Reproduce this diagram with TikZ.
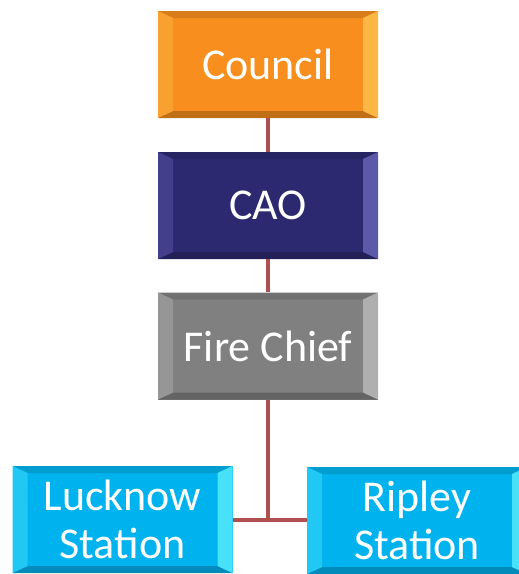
\documentclass[tikz,border=0pt]{standalone}
\usepackage{fontspec}
\setmainfont{Carlito}
\usetikzlibrary{calc}

\definecolor{councilorange}{RGB}{247,142,30}
\definecolor{councillight}{RGB}{255,205,90}
\definecolor{caonavy}{RGB}{44,41,112}
\definecolor{caolight}{RGB}{120,115,200}
\definecolor{chiefgray}{RGB}{128,128,128}
\definecolor{chieflight}{RGB}{200,200,200}
\definecolor{stationcyan}{RGB}{0,178,238}
\definecolor{stationlight}{RGB}{110,250,255}
\definecolor{linkred}{RGB}{176,80,78}

\tikzset{
  bevelbox/.style 2 args={rectangle, fill=#1, minimum width=220, minimum height=107,
    text=white, align=center, inner sep=0pt,
    font=\fontsize{44}{48}\selectfont,
    path picture={
      \coordinate (nw) at (path picture bounding box.north west);
      \coordinate (se) at (path picture bounding box.south east);
      \coordinate (ne) at (path picture bounding box.north east);
      \coordinate (sw) at (path picture bounding box.south west);
      % top and bottom edges
      \fill[#1!88!black] (nw) -- (ne) -- ($(ne)+(-15,7)$) -- ($(nw)+(15,7)$) -- cycle;
      \fill[#1!78!black] (sw) -- (se) -- ($(se)+(-15,-7)$) -- ($(sw)+(15,-7)$) -- cycle;
      % side edges
      \fill[#1!70!#2] (nw) -- ($(nw)+(15,7)$) -- ($(sw)+(15,-7)$) -- (sw) -- cycle;
      \fill[#1!35!#2] (ne) -- ($(ne)+(-15,7)$) -- ($(se)+(-15,-7)$) -- (se) -- cycle;
    }},
  link/.style={draw=linkred, line width=4}
}

\begin{document}
\begin{tikzpicture}[x=1pt,y=-1pt]
  \useasboundingbox (0,0) rectangle (519,574);
  \clip (0,0) rectangle (519,574);

  % Nodes
  \node[bevelbox={councilorange}{councillight}] (council) at (268,64.5) {Council};
  \node[bevelbox={caonavy}{caolight}] (cao) at (268,205.5) {CAO};
  \node[bevelbox={chiefgray}{chieflight}] (chief) at (268,346) {Fire Chief};
  \node[bevelbox={stationcyan}{stationlight}] (lucknow) at (122.5,519.5) {Lucknow\\Station};
  \node[bevelbox={stationcyan}{stationlight}] (ripley) at (417,520.5) {Ripley\\Station};
  \coordinate (split) at (268,520);

  % Edges
  \draw[link] (council) -- (cao);
  \draw[link] (cao) -- (chief);
  \draw[link] (chief) -- (split);
  \draw[link] (lucknow.east |- split) -- (ripley.west |- split);
\end{tikzpicture}
\end{document}
